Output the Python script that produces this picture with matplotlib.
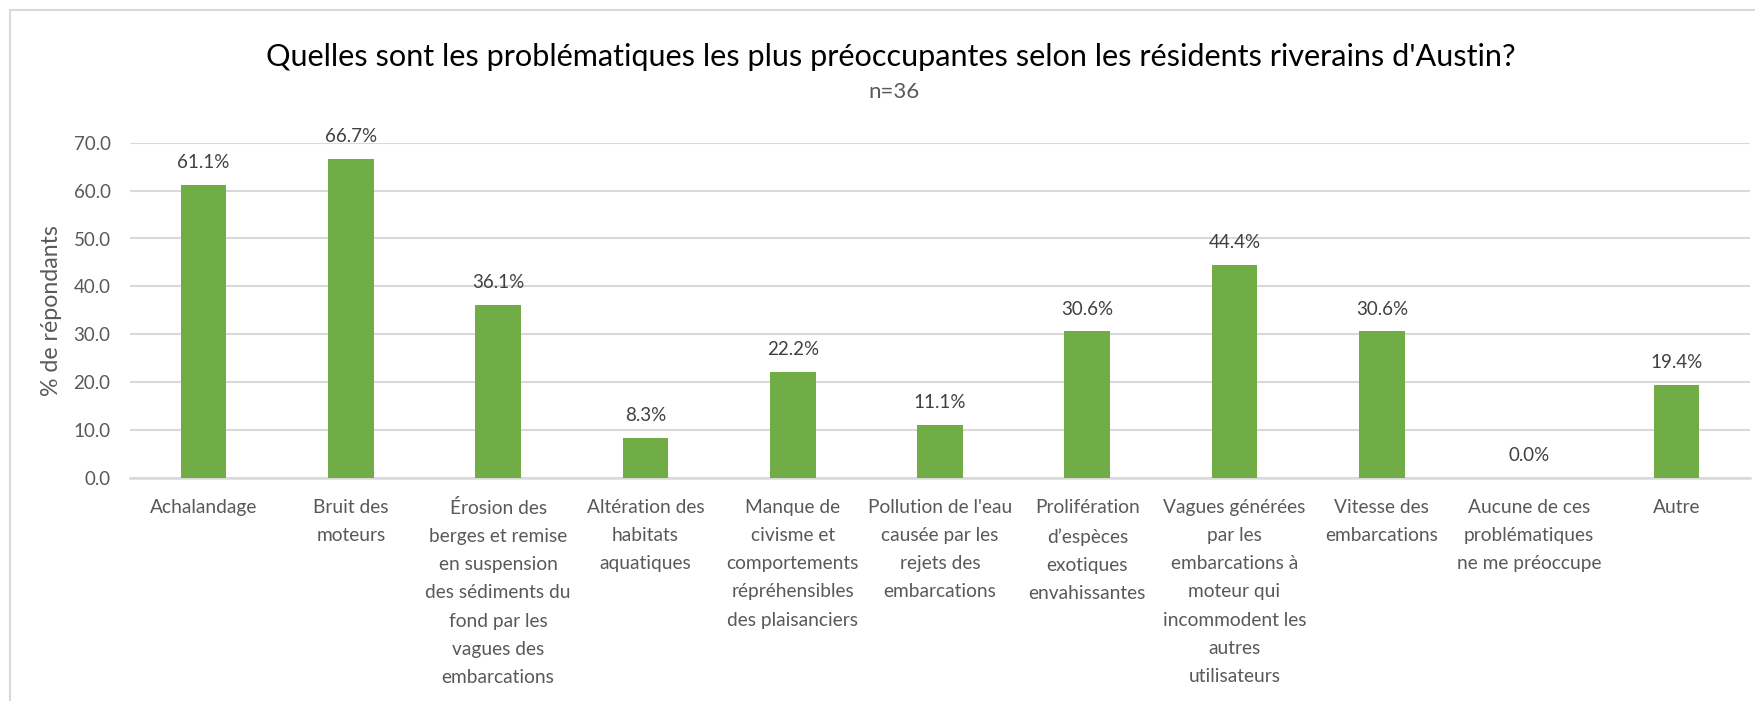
import matplotlib
matplotlib.use('Agg')
import matplotlib.pyplot as plt
from matplotlib.patches import Rectangle
from matplotlib.ticker import FormatStrFormatter

categories = [
	'Achalandage',
	'Bruit des\nmoteurs',
	'Érosion des\nberges et remise\nen suspension\ndes sédiments du\nfond par les\nvagues des\nembarcations',
	'Altération des\nhabitats\naquatiques',
	'Manque de\ncivisme et\ncomportements\nrépréhensibles\ndes plaisanciers',
	"Pollution de l'eau\ncausée par les\nrejets des\nembarcations",
	'Prolifération\nd’espèces\nexotiques\nenvahissantes',
	'Vagues générées\npar les\nembarcations à\nmoteur qui\nincommodent les\nautres\nutilisateurs',
	'Vitesse des\nembarcations',
	'Aucune de ces\nproblématiques\nne me préoccupe',
	'Autre',
]
values = [61.1, 66.7, 36.1, 8.3, 22.2, 11.1, 30.6, 44.4, 30.6, 0.0, 19.4]
yticks = [0, 10, 20, 30, 40, 50, 60, 70]

title = "Quelles sont les problématiques les plus préoccupantes selon les résidents riverains d'Austin?"
subtitle = 'n=36'
ylabel = '% de répondants'

plt.rcParams['font.family'] = ['Lato', 'DejaVu Sans']

W, H = 1756, 701
fig = plt.figure(figsize=(W / 100, H / 100), dpi=100)
ax = fig.add_axes([130 / W, 1 - 478 / H, (1750 - 130) / W, (478 - 142.7) / H])

x = list(range(len(values)))
bars = ax.bar(x, values, width=0.31, color='#70ad47', zorder=3)
for xi, v in zip(x, values):
	ax.text(xi, v + 2.9, '%.1f%%' % v, ha='center', va='bottom', fontsize=13.5, color='#404040')

ax.set_xlim(-0.5, len(values) - 0.5)
ax.set_ylim(0, 70)
ax.set_yticks(yticks)
ax.yaxis.set_major_formatter(FormatStrFormatter('%.1f'))
ax.grid(axis='y', color='#d9d9d9', linewidth=1.5, zorder=0)
for s in ['top', 'right', 'left']:
	ax.spines[s].set_visible(False)
ax.spines['bottom'].set_color('#d9d9d9')
ax.spines['bottom'].set_linewidth(1.8)
ax.tick_params(axis='both', length=0, colors='#595959')
ax.tick_params(axis='y', labelsize=13.5, pad=14)
ax.set_xticks(x)
ax.set_xticklabels(categories, fontsize=13.8, linespacing=1.8, va='top')
ax.tick_params(axis='x', pad=15)
ax.set_ylabel(ylabel, fontsize=16.7, color='#595959', labelpad=8)

fig.text(891 / W, 1 - 57 / H, title, ha='center', va='center', fontsize=22.1, color='#000000')
fig.text(894 / W, 1 - 92 / H, subtitle, ha='center', va='center', fontsize=16, color='#595959')

fig.patches.append(Rectangle((10 / W, -0.1), 1.2, 1 - 10 / H + 0.1, transform=fig.transFigure,
	fill=False, edgecolor='#d9d9d9', linewidth=1.5))

fig.savefig('out.png', dpi=100, facecolor='white')
